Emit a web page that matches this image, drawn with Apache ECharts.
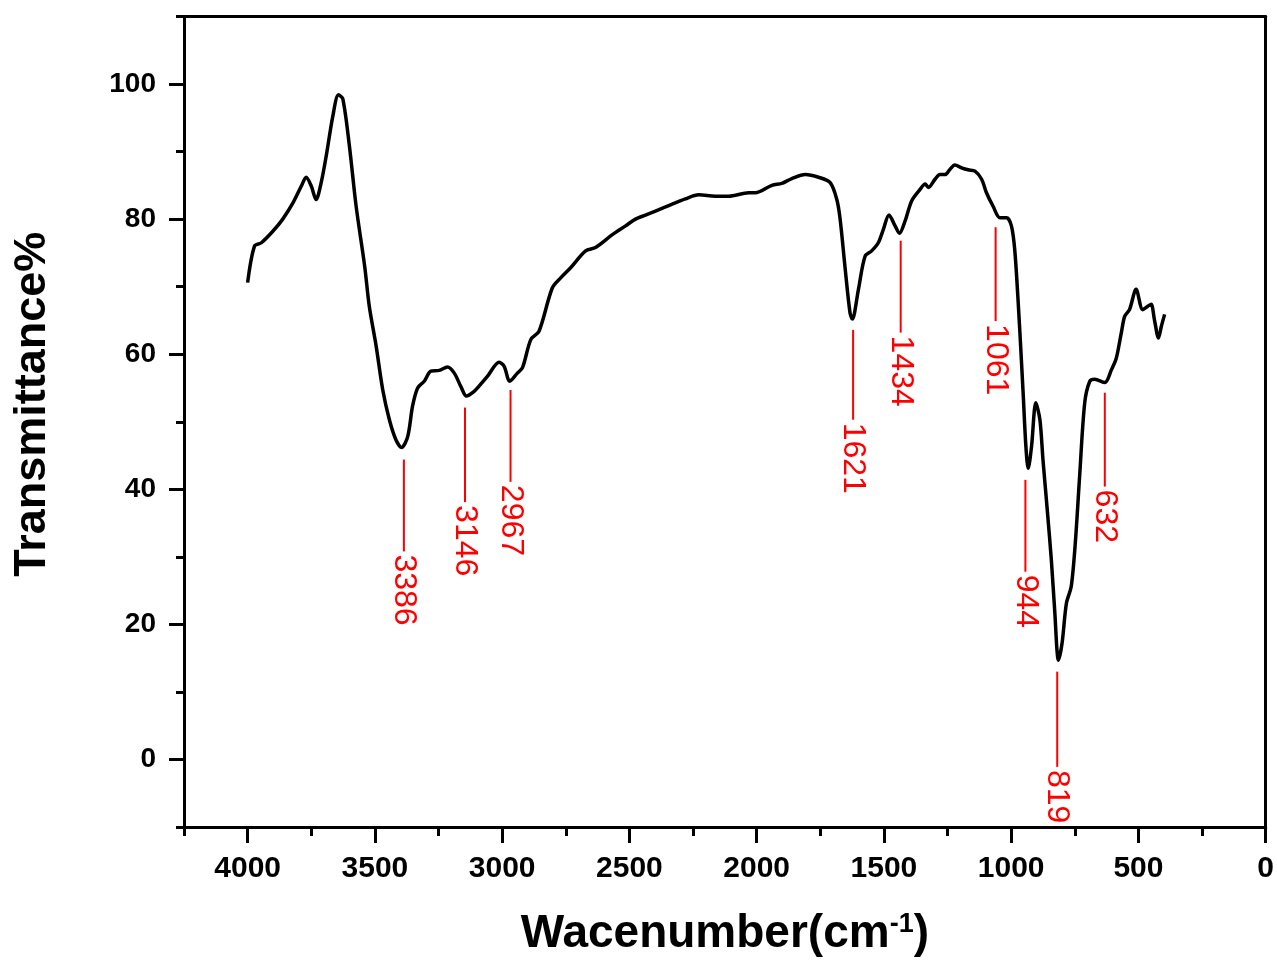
<!DOCTYPE html>
<html>
<head>
<meta charset="utf-8">
<title>FTIR spectrum</title>
<script src="https://cdn.jsdelivr.net/npm/echarts@6/dist/echarts.min.js"></script>
<style>
  html, body { margin: 0; padding: 0; background: #fff; }
  #chart { width: 1277px; height: 967px; }
</style>
</head>
<body>
<div id="chart"></div>
<script>
  // wavenumber (cm-1) and transmittance (%)
  var waveNums = [4000, 3973, 3946, 3901, 3862, 3822, 3789, 3770, 3750, 3731, 3711, 3691, 3665, 3643, 3626,
    3600, 3574, 3540, 3522, 3495, 3469, 3443, 3417, 3395, 3371, 3352, 3332, 3306, 3280, 3247, 3215, 3188,
    3162, 3140, 3110, 3090, 3058, 3012, 2992, 2970, 2940, 2920, 2887, 2855, 2803, 2770, 2731, 2672, 2633,
    2567, 2515, 2476, 2437, 2358, 2280, 2227, 2162, 2110, 2031, 2005, 1940, 1901, 1862, 1809, 1757, 1711,
    1685, 1672, 1652, 1633, 1624, 1600, 1574, 1548, 1522, 1502, 1480, 1456, 1439, 1417, 1391, 1358, 1338,
    1325, 1299, 1280, 1260, 1240, 1221, 1195, 1169, 1142, 1116, 1097, 1071, 1044, 1018, 999, 986, 973,
    962, 953, 942, 933, 920, 903, 887, 875, 858, 842, 829, 814, 800, 783, 764, 748, 731, 711, 691, 672,
    632, 606, 587, 567, 554, 535, 509, 483, 463, 450, 437, 421, 410, 397];
  var transmit = [70.6, 76.0, 76.5, 78.2, 80.0, 82.4, 84.9, 86.2, 84.9, 82.9, 85.4, 89.4, 95.3, 98.4, 97.8,
    90.8, 82.0, 73.0, 67.1, 61.2, 54.7, 50.3, 47.3, 46.2, 47.8, 52.3, 55.0, 56.0, 57.5, 57.6, 58.1, 57.2,
    55.2, 53.8, 54.5, 55.3, 56.7, 58.8, 58.2, 56.0, 57.2, 58.0, 62.2, 63.4, 69.8, 71.3, 72.8, 75.3, 75.8,
    77.7, 79.0, 80.0, 80.6, 81.8, 83.0, 83.6, 83.4, 83.4, 83.9, 83.9, 85.0, 85.3, 86.0, 86.6, 86.2, 85.4,
    82.9, 80.0, 72.6, 66.1, 65.2, 69.6, 74.5, 75.3, 76.5, 78.5, 80.6, 79.0, 77.9, 79.7, 82.7, 84.4, 85.2,
    84.7, 85.9, 86.6, 86.6, 87.4, 88.0, 87.6, 87.3, 87.1, 85.9, 83.9, 81.9, 80.2, 80.2, 79.0, 75.5, 68.1,
    60.7, 54.3, 46.3, 43.1, 46.3, 52.8, 50.3, 44.4, 36.9, 29.5, 22.1, 14.7, 17.2, 23.1, 25.6, 32.0, 41.9,
    52.8, 56.0, 56.3, 55.8, 57.7, 59.4, 63.2, 65.6, 66.6, 69.6, 66.6, 67.1, 67.4, 65.1, 62.4, 64.1, 65.9];

  // marked bands: wavenumber, top and bottom of the red leader line (in % units)
  var peakNums = [3386, 3146, 2967, 1621, 1434, 1061, 944, 819, 632];
  var leaderTop = [44.4, 52.1, 54.7, 63.6, 76.8, 78.8, 41.4, 13.0, 54.3];
  var leaderBottom = [30.8, 38.1, 41.1, 50.3, 63.2, 64.9, 27.8, -1.1, 40.4];

  var xMajor = [0, 500, 1000, 1500, 2000, 2500, 3000, 3500, 4000];
  var xMinor = [250, 750, 1250, 1750, 2250, 2750, 3250, 3750, 4250];
  var yMajor = [0, 20, 40, 60, 80, 100];
  var yMinor = [-10, 10, 30, 50, 70, 90, 110];

  var FONT = '"Liberation Sans", Arial, sans-serif';

  var chart = echarts.init(document.getElementById('chart'));

  var spectrum = waveNums.map(function (v, i) { return [v, transmit[i]]; });
  var marks = peakNums.map(function (v, i) { return [v, leaderTop[i], leaderBottom[i]]; });

  var axisLineStyle = { color: '#000', width: 3 };
  var plain = function (v) { return String(v); };

  chart.setOption({
    animation: false,
    backgroundColor: '#fff',
    grid: { left: 184, right: 9, top: 16.5, bottom: 140 },
    xAxis: [
      {
        type: 'value', min: 0, max: 4250, inverse: true, position: 'bottom',
        name: '{t|Wacenumber(cm}{s|-1}{t|)}',
        nameLocation: 'middle', nameGap: 84,
        nameTextStyle: {
          rich: {
            t: { fontSize: 46, fontWeight: 'bold', fontFamily: FONT, color: '#000', verticalAlign: 'bottom' },
            s: { fontSize: 27, fontWeight: 'bold', fontFamily: FONT, color: '#000', verticalAlign: 'top' }
          }
        },
        axisLine: { onZero: false, lineStyle: axisLineStyle },
        axisTick: { customValues: xMajor, length: 16, lineStyle: { color: '#000', width: 3 } },
        axisLabel: { customValues: xMajor, formatter: plain, fontSize: 30, fontWeight: 'bold', fontFamily: FONT, color: '#000', margin: 27 },
        splitLine: { show: false }
      },
      {
        type: 'value', min: 0, max: 4250, inverse: true, position: 'bottom',
        axisLine: { show: false, onZero: false },
        axisTick: { customValues: xMinor, length: 9, lineStyle: { color: '#000', width: 3 } },
        axisLabel: { show: false },
        splitLine: { show: false }
      },
      {
        type: 'value', min: 0, max: 4250, inverse: true, position: 'top',
        axisLine: { onZero: false, lineStyle: axisLineStyle },
        axisTick: { show: false },
        axisLabel: { show: false },
        splitLine: { show: false }
      }
    ],
    yAxis: [
      {
        type: 'value', min: -10, max: 110, position: 'left',
        name: 'Transmittance%',
        nameLocation: 'middle', nameGap: 129, nameRotate: 90,
        nameTextStyle: { fontSize: 45, fontWeight: 'bold', fontFamily: FONT, color: '#000', padding: [0, 0, 0, 35] },
        axisLine: { onZero: false, lineStyle: axisLineStyle },
        axisTick: { customValues: yMajor, length: 15, lineStyle: { color: '#000', width: 3 } },
        axisLabel: { customValues: yMajor, formatter: plain, fontSize: 28, fontWeight: 'bold', fontFamily: FONT, color: '#000', margin: 28 },
        splitLine: { show: false }
      },
      {
        type: 'value', min: -10, max: 110, position: 'left',
        axisLine: { show: false, onZero: false },
        axisTick: { customValues: yMinor, length: 8, lineStyle: { color: '#000', width: 3 } },
        axisLabel: { show: false },
        splitLine: { show: false }
      },
      {
        type: 'value', min: -10, max: 110, position: 'right',
        axisLine: { onZero: false, lineStyle: axisLineStyle },
        axisTick: { show: false },
        axisLabel: { show: false },
        splitLine: { show: false }
      }
    ],
    series: [
      {
        type: 'line',
        xAxisIndex: 0, yAxisIndex: 0,
        data: spectrum,
        showSymbol: false,
        smooth: 0.3,
        lineStyle: { color: '#000', width: 3.5 }
      },
      {
        type: 'custom',
        xAxisIndex: 0, yAxisIndex: 0,
        data: marks,
        z: 5,
        renderItem: function (params, api) {
          var top = api.coord([api.value(0), api.value(1)]);
          var bot = api.coord([api.value(0), api.value(2)]);
          return {
            type: 'group',
            children: [
              {
                type: 'line',
                shape: { x1: top[0], y1: top[1], x2: bot[0], y2: bot[1] },
                style: { stroke: '#ff0000', lineWidth: 2 }
              },
              {
                type: 'text',
                x: bot[0], y: bot[1] + 3,
                rotation: -Math.PI / 2,
                style: {
                  text: String(api.value(0)),
                  fill: '#ff0000',
                  font: '32px ' + FONT,
                  align: 'left',
                  verticalAlign: 'middle'
                }
              }
            ]
          };
        }
      }
    ]
  });
</script>
</body>
</html>
